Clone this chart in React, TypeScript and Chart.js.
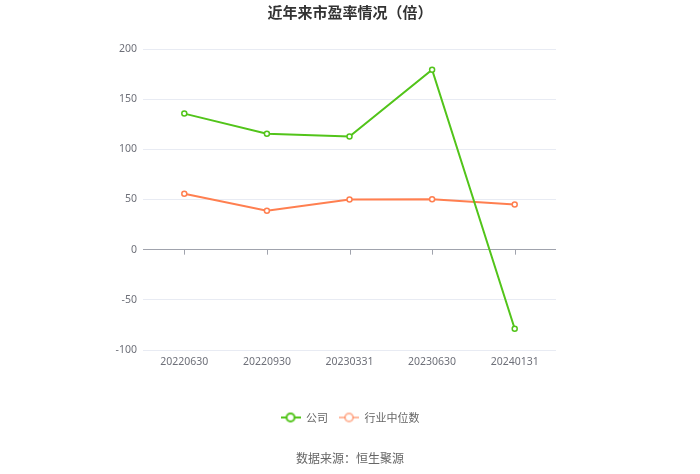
import { useEffect, useRef } from 'react';
import { Chart, registerables } from 'chart.js';

Chart.register(...registerables);

const periods = ['20220630', '20220930', '20230331', '20230630', '20240131'];
const companyPE = [135.6, 115.6, 112.7, 179.4, -78.8];
const industryPE = [55.8, 38.8, 49.9, 50.3, 44.9];
const yTicks = [-100, -50, 0, 50, 100, 150, 200];

const GREEN = '#52c41a';
const ORANGE = '#ff7f50';
const FONT = '"Noto Sans CJK SC", "Noto Sans", sans-serif';
const TICK_FONT = '"Noto Sans", "Noto Sans CJK SC", sans-serif';

function legendIcon(color: string) {
  const c = document.createElement('canvas');
  c.width = 20;
  c.height = 12;
  const g = c.getContext('2d')!;
  g.strokeStyle = color;
  g.lineWidth = 2;
  g.beginPath();
  g.moveTo(0, 6);
  g.lineTo(20, 6);
  g.stroke();
  g.fillStyle = '#fff';
  g.beginPath();
  g.arc(10, 6, 4, 0, Math.PI * 2);
  g.fill();
  g.stroke();
  return c;
}

const decorations = {
  id: 'decorations',
  beforeDatasetsDraw(chart: any) {
    const { ctx, scales } = chart;
    const x = scales.x;
    const y0 = scales.y.getPixelForValue(0);
    ctx.save();
    ctx.strokeStyle = '#a0a3ad';
    ctx.lineWidth = 1;
    periods.forEach((_, i) => {
      const px = Math.round(x.getPixelForValue(i)) + 0.5;
      ctx.beginPath();
      ctx.moveTo(px, y0);
      ctx.lineTo(px, y0 + 5);
      ctx.stroke();
    });
    ctx.restore();
  },
  afterDraw(chart: any) {
    const { ctx, width, height } = chart;
    ctx.save();
    ctx.textAlign = 'center';
    ctx.textBaseline = 'middle';
    ctx.fillStyle = '#333';
    ctx.font = `bold 15px ${FONT}`;
    ctx.fillText('近年来市盈率情况（倍）', width / 2, 12);
    ctx.fillStyle = '#666';
    ctx.font = `12px ${FONT}`;
    ctx.fillText('数据来源：恒生聚源', width / 2, height - 16);
    ctx.restore();
  },
};

export default function App() {
  const canvasRef = useRef<HTMLCanvasElement>(null);

  useEffect(() => {
    document.body.style.margin = '0';
    if (!canvasRef.current) return;
    const icons = [legendIcon(GREEN), legendIcon('rgba(255,127,80,0.55)')];

    const chart = new Chart(canvasRef.current, {
      type: 'line',
      data: {
        labels: periods,
        datasets: [
          {
            label: '公司',
            data: companyPE,
            borderColor: GREEN,
            backgroundColor: '#fff',
            borderWidth: 2,
            pointRadius: 2.5,
            pointBorderWidth: 1.5,
            pointBackgroundColor: '#fff',
            pointBorderColor: GREEN,
            tension: 0,
          },
          {
            label: '行业中位数',
            data: industryPE,
            borderColor: ORANGE,
            backgroundColor: '#fff',
            borderWidth: 2,
            pointRadius: 2.5,
            pointBorderWidth: 1.5,
            pointBackgroundColor: '#fff',
            pointBorderColor: ORANGE,
            tension: 0,
          },
        ],
      },
      options: {
        responsive: false,
        animation: false,
        layout: { padding: { top: 49, bottom: 41, left: 0, right: 0 } },
        plugins: {
          title: { display: false },
          tooltip: { enabled: false },
          legend: {
            position: 'bottom',
            labels: {
              usePointStyle: true,
              pointStyleWidth: 20,
              padding: 11,
              color: '#666',
              font: { size: 11, family: FONT },
              generateLabels: (c: any) =>
                c.data.datasets.map((ds: any, i: number) => ({
                  text: ds.label,
                  pointStyle: icons[i],
                  fontColor: '#666',
                  datasetIndex: i,
                  hidden: false,
                  lineWidth: 0,
                  strokeStyle: 'transparent',
                  fillStyle: 'transparent',
                })),
            },
          },
        },
        scales: {
          x: {
            offset: true,
            grid: { display: false, drawTicks: false },
            border: { display: false },
            ticks: { color: '#6e7079', padding: 6, font: { size: 10.5, family: TICK_FONT } },
            afterFit: (s: any) => {
              s.height = 51;
            },
          },
          y: {
            min: -100,
            max: 200,
            afterBuildTicks: (s: any) => {
              s.ticks = yTicks.map((v) => ({ value: v }));
            },
            grid: {
              drawTicks: false,
              color: (c: any) => (c.tick && c.tick.value === 0 ? '#a0a3ad' : '#e8ebf3'),
            },
            border: { display: false },
            ticks: { color: '#6e7079', padding: 6, font: { size: 10.5, family: TICK_FONT } },
            afterFit: (s: any) => {
              s.width = 143;
            },
          },
          yRight: {
            position: 'right',
            display: true,
            grid: { display: false },
            border: { display: false },
            ticks: { display: false },
            afterFit: (s: any) => {
              s.width = 144;
            },
          },
        },
      },
      plugins: [decorations],
    });

    return () => chart.destroy();
  }, []);

  return <canvas ref={canvasRef} width={700} height={474} style={{ display: 'block' }} />;
}
